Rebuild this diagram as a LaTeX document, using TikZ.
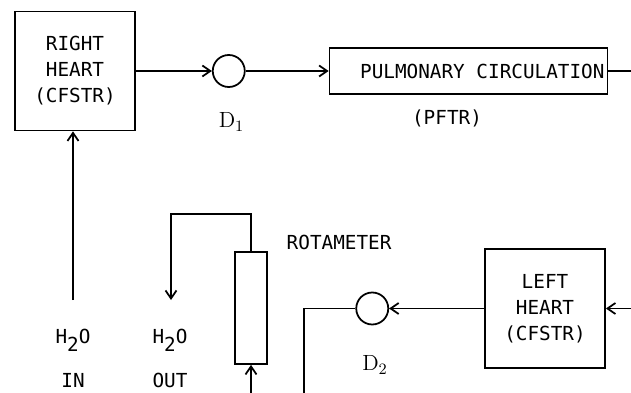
\documentclass[tikz,border=0pt]{standalone}
\usepackage{fontspec}
\setmonofont{DejaVu Sans Mono}
\usetikzlibrary{positioning,arrows.meta}

\begin{document}
\begin{tikzpicture}[>={Straight Barb[length=1.6mm,width=2.2mm]},line width=1pt,
  every node/.style={font=\fontsize{11}{14.8}\selectfont\ttfamily},
  tank/.style={rectangle,draw,minimum width=2.4cm,minimum height=2.38cm,align=center,inner sep=0pt},
  sensor/.style={circle,draw,minimum size=6.4mm,inner sep=0pt},
  tag/.style={font=\fontsize{12.5}{14}\selectfont\rmfamily},
  flow/.style={->}]
  \useasboundingbox (0,0) rectangle (12.62,-7.86);
  % upper branch: right heart -> D1 -> lungs
  \node[tank] (rh) at (1.50,-1.42) {RIGHT\\HEART\\(CFSTR)};
  \node[sensor,right=1.52cm of rh] (d1) {};
  \node[tag] (d1lab) at (4.63,-2.44) {D$_1$};
  % one full character cell between the two words
  \node[rectangle,draw,minimum width=5.56cm,minimum height=0.92cm,text width=5.44cm,
        align=right,inner sep=0.06cm,right=1.66cm of d1] (pulm) {PULMONARY\hspace{0.602em}CIRCULATION};
  \node (pftr) at (8.94,-2.36) {(PFTR)};
  \coordinate (pout) at (12.62,-1.36);
  \draw[flow] (rh) -- (d1);
  \draw[flow] (d1) -- (pulm);
  \draw (pulm.east) -- (pulm.east -| pout);
  % lower branch: left heart -> D2 -> drain
  \node[tank] (lh) at (10.90,-6.17) {LEFT\\HEART\\(CFSTR)};
  \node[sensor,left=1.90cm of lh] (d2) {};
  \node[tag] (d2lab) at (7.50,-7.30) {D$_2$};
  \coordinate (lin) at (12.62,-6.17);
  \coordinate (dout) at (6.08,-7.86);
  \draw[flow] (lin) -- (lh);
  \draw[flow] (lh) -- (d2);
  \draw (d2.west) -| (dout);
  % water supply and rotameter
  \node[draw,minimum width=0.64cm,minimum height=2.24cm,inner sep=0pt] (rot) at (5.02,-6.16) {};
  \node[anchor=west] (rotlab) at (5.60,-4.84) {ROTAMETER};
  \node[anchor=base] (h2oin) at (1.46,-6.86) {H\raisebox{-0.85ex}{2}O};
  \node[anchor=base] (inlab) at (1.46,-7.74) {IN};
  \node[anchor=base] (h2oout) at (3.40,-6.86) {H\raisebox{-0.85ex}{2}O};
  \node[anchor=base] (outlab) at (3.40,-7.74) {OUT};
  \coordinate (win) at (1.46,-6.00);
  \coordinate (wout) at (3.42,-6.00);
  \coordinate (rin) at (5.02,-7.86);
  \draw[flow] (win) -- (win |- rh.south);
  \draw[flow] (rin) -- (rot.south);
  \draw[flow] (rot.north) -- ++(0,0.74) -| (wout);
\end{tikzpicture}
\end{document}
